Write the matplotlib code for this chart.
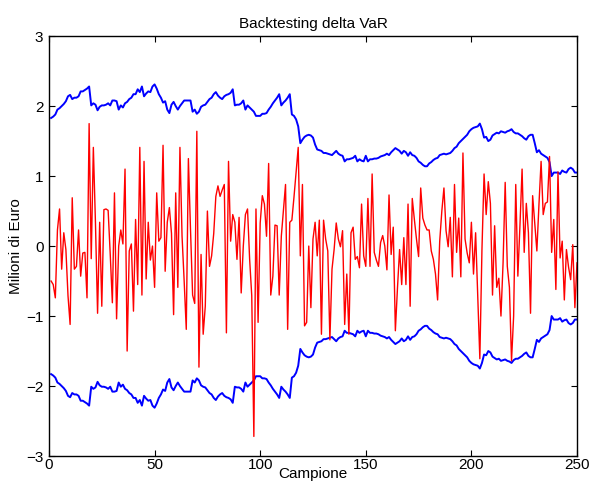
import numpy as np
import matplotlib
matplotlib.use("Agg")
import matplotlib.pyplot as plt

plt.rcParams["font.family"] = ["Liberation Sans", "DejaVu Sans"]

# delta P&L giornaliero (milioni di euro), campioni 1..250
pnl = [
    -0.5, -0.55, -0.74, 0.23, 0.53, -0.33, 0.19, -0.05, -0.71, -1.12,
    0.69, -0.33, -0.29, 0.23, -0.43, -0.1, -0.09, -0.74, 1.75, -0.18,
    1.41, 0.33, -0.96, 0.34, -0.86, 0.52, 0.53, 0.51, -0.12, -0.81,
    0.76, -1.04, 0.0, 0.23, 0.03, 1.10, -1.5, -0.07, 0.03, -0.93,
    0.38,
    -0.55, 1.41, -0.70, 1.21, -0.47, 0.34, -0.20, 0.0, -0.59, 0.76,
    0.07, 0.12, 1.44, -0.36, 0.34, 0.55, 0.18, -0.98, 0.76, -0.59,
    1.41, 0.14, -0.5, -1.19, 1.25, 0.24, -0.70, -0.82, 1.64, -1.73,
    -0.12, -1.26, -0.86, 0.50, -0.29, -0.14, 0.18, 0.71, 0.86, 0.71,
    0.80, 0.88,
    -1.24, 1.21, 0.07, 0.45, 0.34, -0.19, 0.41, -0.67, 0.0, 0.45,
    0.53, -0.19, -0.71, -2.72, 0.53, -1.09, 0.33, 0.72, 0.6, 0.14,
    1.18, -0.70, -0.43, 0.30, 0.29, -0.70, 0.14, 0.52, 0.88, -1.19,
    0.34, 0.37, 0.7, 1.05, 1.41, -0.14, 0.88, -1.14, -1.09,
    0.0, -0.88, 0.1, 0.34, -0.14, 0.37, -1.26, 0.37, 0.1, -0.07,
    -1.34, -0.33, -0.05, 0.33, 0.1, -0.01, 0.22, -1.12, -0.40, -1.26,
    0.19, 0.27, -0.19, -0.15, -0.31, 0.60, -0.14, -0.29, 0.68, -0.29,
    1.03, -0.09, -0.2, -0.29, 0.05, 0.15, 0.0, -0.34, 0.73, -0.12,
    0.27, -1.21,
    -0.6, -0.05, -0.55, 0.12, -0.55,
    0.60, -0.86, 0.68, 0.38, 0.1, -0.15, 0.83, 0.40, 0.30, 0.23,
    0.23, -0.07, -0.19, -0.4, -0.77, 0.07, 0.5, 0.83, 0.22, -0.01,
    0.41, -0.44, 0.88, -0.09, 0.40, -0.44, 1.33, 0.10, -0.1, -0.24,
    0.34, -0.40, 0.19, -0.71, -1.61, -0.05, 1.03, 0.45, 0.92,
    0.61, -0.70, 0.29, -0.59, -0.46, -1.0, -0.24, 0.91, -0.29, -0.59,
    -1.64, -1.0, 0.88,
    -0.43, 0.3, 1.10, -0.09, 0.61, 0.19, -0.96, 0.72, 0.33, -0.07,
    0.6, 1.21, 0.45, 0.61, 0.63, 1.28, -0.09, 0.38, -0.62, 1.06,
    -0.17, 0.07, -0.77, -0.05, -0.3, -0.48, 0.02, -0.88, -0.24,
]

# VaR stimato (banda superiore, la inferiore e' simmetrica)
var_up = [
    1.83, 1.85, 1.88, 1.95, 1.97, 2.00, 2.03, 2.07, 2.14, 2.16,
    2.10, 2.12, 2.12, 2.14, 2.21, 2.21, 2.23, 2.25, 2.28, 2.01,
    2.04, 2.02, 1.94, 1.99, 2.01, 2.01, 2.02, 2.04, 2.01, 2.08,
    2.08, 2.07, 1.95, 2.01, 1.98, 2.04, 2.06, 2.10, 2.12, 2.17,
    2.17,
    2.24, 2.20, 2.28, 2.14, 2.18, 2.21, 2.20, 2.28, 2.31, 2.25,
    2.17, 2.12, 2.05, 2.07, 1.95, 1.90, 2.02, 2.06, 2.00, 1.95,
    2.00, 2.04, 2.08, 2.08, 2.08, 2.08, 1.92, 1.95, 1.89, 1.92,
    1.99, 2.01, 2.02, 2.06, 2.10, 2.12, 2.17, 2.20, 2.15, 2.12,
    2.10, 2.14,
    2.16, 2.17, 2.19, 2.24, 2.01, 2.02, 2.02, 2.04, 2.08, 1.95,
    2.01, 1.98, 1.95, 1.92, 1.86, 1.86, 1.86, 1.89, 1.89, 1.90,
    1.95, 1.99, 2.04, 2.08, 2.12, 2.17, 2.01, 2.05, 2.08, 2.12,
    2.17, 1.88, 1.86, 1.81, 1.71, 1.47, 1.52, 1.56, 1.58, 1.59,
    1.58,
    1.55, 1.45, 1.38, 1.37, 1.36, 1.33, 1.33, 1.32, 1.31, 1.30,
    1.33, 1.36, 1.32, 1.30, 1.29, 1.21, 1.24, 1.24, 1.25, 1.26,
    1.29, 1.21, 1.24, 1.22, 1.21, 1.29, 1.21, 1.24, 1.24, 1.25,
    1.25, 1.26, 1.28, 1.29, 1.30, 1.32, 1.30, 1.34, 1.37, 1.40,
    1.38, 1.36, 1.32, 1.36, 1.34, 1.29, 1.34, 1.30, 1.29, 1.26,
    1.21, 1.19, 1.16, 1.14, 1.14, 1.18, 1.20, 1.23, 1.25, 1.26,
    1.30, 1.31, 1.32, 1.31, 1.32, 1.33, 1.36, 1.40, 1.42, 1.47,
    1.50, 1.53, 1.56, 1.59, 1.64, 1.67, 1.69, 1.70, 1.71, 1.75,
    1.67, 1.55, 1.56, 1.50,
    1.52, 1.58, 1.60, 1.62, 1.61, 1.64, 1.63, 1.62, 1.64, 1.65,
    1.67, 1.63, 1.61, 1.61, 1.59, 1.57, 1.54, 1.52, 1.57, 1.59,
    1.59, 1.47, 1.34, 1.37, 1.32, 1.30, 1.28, 1.26, 1.20, 1.00,
    1.05, 1.05, 1.05, 1.03, 1.08, 1.06, 1.05, 1.10, 1.12, 1.10,
    1.05, 1.05,
]

campioni = np.arange(1, len(pnl) + 1)
up = np.array(var_up)

fig = plt.figure(figsize=(5.91, 4.86), dpi=100)
ax = fig.add_axes([0.0829, 0.0617, 0.8934, 0.864])

ax.plot(campioni, up, color="#0000ff", lw=1.4)
ax.plot(campioni, -up, color="#0000ff", lw=1.4)
ax.plot(campioni, pnl, color="#ff0000", lw=1.0)

ax.set_xlim(0, 250)
ax.set_ylim(-3, 3)
ax.set_xticks([0, 50, 100, 150, 200, 250])
ax.set_yticks([-3, -2, -1, 0, 1, 2, 3])
ax.tick_params(direction="in", length=4, width=0.8, top=True, right=True,
               labelsize=11)
ax.tick_params(axis="x", pad=1.5)
ax.tick_params(axis="y", pad=4)
for s in ax.spines.values():
    s.set_linewidth(1.0)

ax.set_title("Backtesting delta VaR", fontsize=11, pad=6)
ax.set_xlabel("Campione", fontsize=11, labelpad=-4)
ax.set_ylabel("Milioni di Euro", fontsize=11, labelpad=2)

fig.savefig("out.png", dpi=100)
